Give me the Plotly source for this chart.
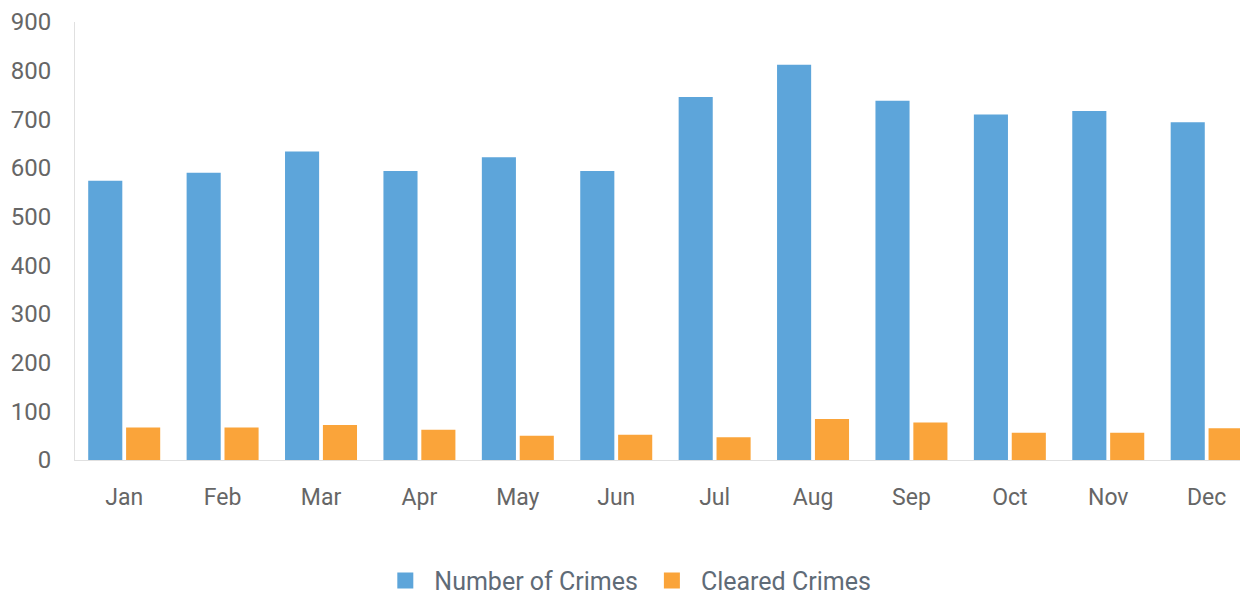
import plotly.graph_objects as go

months = ["Jan", "Feb", "Mar", "Apr", "May", "Jun", "Jul", "Aug", "Sep", "Oct", "Nov", "Dec"]
crimes = [574, 590, 634, 594, 622, 594, 746, 812, 738, 710, 717, 694]
cleared = [67, 67, 72, 62, 50, 52, 47, 84, 77, 56, 56, 65]
y_ticks = [0, 100, 200, 300, 400, 500, 600, 700, 800, 900]

BLUE = "#5DA5DA"
ORANGE = "#FAA43A"

fig = go.Figure()
fig.add_trace(go.Bar(x=months, y=crimes, name="Number of Crimes",
                     marker=dict(color=BLUE, line=dict(width=0)), showlegend=False))
fig.add_trace(go.Bar(x=months, y=cleared, name="Cleared Crimes",
                     marker=dict(color=ORANGE, line=dict(width=0)), showlegend=False))
# legend entries with square markers
fig.add_trace(go.Scatter(x=[None], y=[None], mode="markers", name="Number of Crimes",
                         marker=dict(symbol="square", size=22, color=BLUE)))
fig.add_trace(go.Scatter(x=[None], y=[None], mode="markers", name="Cleared Crimes",
                         marker=dict(symbol="square", size=22, color=ORANGE)))

fig.update_layout(
    width=1240, height=598,
    margin=dict(l=67, r=0, t=14, b=146),
    paper_bgcolor="white", plot_bgcolor="white",
    barmode="group", bargap=0.23, bargroupgap=0.1,
    font=dict(family="Roboto, sans-serif", size=24, color="#666666"),
    legend=dict(orientation="h", x=0.47, xanchor="center", y=-0.223, yanchor="top",
                font=dict(size=25, color="#5f6b77"), itemwidth=48,
                traceorder="normal"),
    xaxis=dict(showgrid=False, showline=True, linecolor="#e0e0e0", linewidth=1,
               range=[-0.5, 11.42],
               ticks="outside", ticklen=16, tickcolor="rgba(0,0,0,0)",
               tickfont=dict(size=23, color="#666666")),
    yaxis=dict(range=[0, 900], tickvals=y_ticks, showgrid=False, zeroline=False,
               showline=True, linecolor="#e0e0e0", linewidth=1,
               ticks="outside", ticklen=18, tickcolor="rgba(0,0,0,0)",
               tickfont=dict(size=24, color="#666666")),
)

fig.write_html("out.html")
